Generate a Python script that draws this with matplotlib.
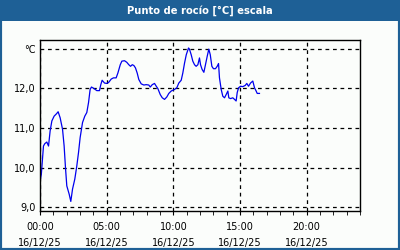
import matplotlib
matplotlib.use("Agg")
import matplotlib.pyplot as plt
from matplotlib.patches import Rectangle

title = "Punto de rocío [°C] escala"
hours = [0.0, 0.1, 0.26, 0.36, 0.51, 0.64, 0.76, 0.89, 1.06, 1.24, 1.36, 1.51, 1.69, 1.81,
         1.91, 2.01, 2.19, 2.31, 2.44, 2.61, 2.76, 2.89, 3.01, 3.19, 3.36, 3.51, 3.64, 3.76,
         3.86, 4.06, 4.26, 4.46, 4.56, 4.66, 4.84, 5.01, 5.16, 5.34, 5.51, 5.71, 5.84, 6.02,
         6.14, 6.34, 6.51, 6.66, 6.79, 6.92, 7.04, 7.16, 7.29, 7.41, 7.59, 7.79, 7.96, 8.16,
         8.27, 8.42, 8.59, 8.72, 8.84, 9.02, 9.17, 9.34, 9.51, 9.66, 9.84, 10.09, 10.26, 10.41,
         10.59, 10.71, 10.84, 10.97, 11.14, 11.21, 11.34, 11.46, 11.59, 11.71, 11.84, 11.96,
         12.04, 12.16, 12.29, 12.41, 12.54, 12.66, 12.77, 12.89, 13.01, 13.16, 13.29, 13.39,
         13.46, 13.59, 13.71, 13.84, 13.96, 14.09, 14.16, 14.29, 14.46, 14.59, 14.71, 14.79,
         14.89, 15.04, 15.21, 15.39, 15.51, 15.64, 15.79, 15.96, 16.09, 16.21, 16.29, 16.46]
dew = [9.65, 9.83, 10.54, 10.6, 10.64, 10.54, 10.92, 11.17, 11.29, 11.35, 11.4, 11.25, 10.96, 10.54,
       10.0, 9.54, 9.33, 9.15, 9.46, 9.71, 10.04, 10.38, 10.75, 11.13, 11.29, 11.38, 11.63, 11.96,
       12.02, 11.98, 11.93, 11.93, 12.08, 12.19, 12.12, 12.11, 12.14, 12.22, 12.25, 12.25, 12.37, 12.58,
       12.67, 12.68, 12.64, 12.58, 12.54, 12.58, 12.56, 12.5, 12.37, 12.21, 12.1, 12.07, 12.08, 12.07,
       12.02, 12.08, 12.11, 12.04, 11.98, 11.83, 11.75, 11.71, 11.77, 11.86, 11.92, 11.96, 12.0, 12.12,
       12.19, 12.37, 12.62, 12.83, 13.0, 12.97, 12.83, 12.67, 12.58, 12.54, 12.58, 12.75,
       12.58, 12.46, 12.39, 12.58, 12.79, 12.97, 12.83, 12.54, 12.48, 12.48, 12.54, 12.61,
       12.25, 11.96, 11.79, 11.75, 11.83, 11.92, 11.75, 11.73, 11.75, 11.71, 11.67, 11.88,
       12.0, 12.04, 12.03, 12.06, 12.11, 12.04, 12.12, 12.17, 12.0, 11.92, 11.86, 11.86]

ytick_vals = [9.0, 10.0, 11.0, 12.0, 12.97]
ytick_labels = ["9,0", "10,0", "11,0", "12,0", "°C"]
xtick_vals = [0, 5, 10, 15, 20]
xtick_labels = ["00:00\n16/12/25", "05:00\n16/12/25", "10:00\n16/12/25",
                "15:00\n16/12/25", "20:00\n16/12/25"]

blue = "#1e6096"
bg = "#fbfdfb"

fig = plt.figure(figsize=(4, 2.5), dpi=100, facecolor=bg)
fig.patches.append(Rectangle((0, 0), 1, 1, transform=fig.transFigure, fill=False,
                             edgecolor=blue, linewidth=3, zorder=0))
fig.patches.append(Rectangle((0, 1 - 21 / 250), 1, 21 / 250, transform=fig.transFigure,
                             facecolor=blue, edgecolor="none", zorder=1))
fig.text(0.5, 1 - 10.5 / 250, title, color="white", fontsize=7.2, fontweight="bold",
         ha="center", va="center", family="DejaVu Sans")

ax = fig.add_axes([40 / 400, (250 - 211) / 250, 320 / 400, (211 - 40) / 250])
ax.set_facecolor(bg)
ax.plot(hours, dew, color="#0000ee", linewidth=0.9)
ax.set_xlim(0, 24)
ax.set_ylim(8.91, 13.2)
ax.set_yticks(ytick_vals)
ax.set_yticklabels(ytick_labels)
ax.set_xticks(xtick_vals)
ax.set_xticklabels(xtick_labels, linespacing=1.75)
ax.set_xticks(range(0, 25), minor=True)
ax.grid(True, which="major", color="black", linestyle=(0, (3, 3)), linewidth=0.9)
ax.tick_params(axis="y", which="major", length=0, labelsize=7, pad=3)
ax.tick_params(axis="x", which="major", length=3, labelsize=7, pad=5, direction="out")
ax.tick_params(axis="x", which="minor", length=3, direction="out")
for s in ax.spines.values():
    s.set_linewidth(1.0)
    s.set_color("black")

fig.savefig("out.png", dpi=100, facecolor=bg)
